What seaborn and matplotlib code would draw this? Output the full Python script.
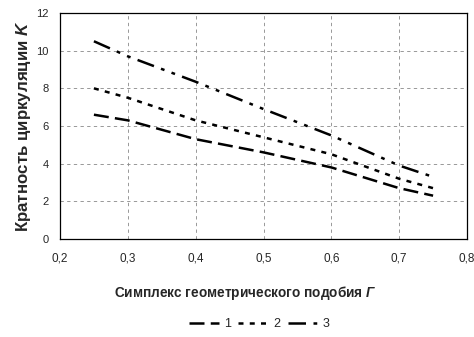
import matplotlib
matplotlib.use("Agg")
import matplotlib.pyplot as plt
import seaborn as sns
import pandas as pd

x_vals = [0.25, 0.3, 0.4, 0.5, 0.6, 0.7, 0.75]
line1 = [6.6, 6.3, 5.3, 4.6, 3.8, 2.7, 2.3]
line2 = [8.0, 7.5, 6.3, 5.4, 4.5, 3.2, 2.7]
line3 = [10.5, 9.7, 8.35, 6.9, 5.5, 3.9, 3.3]
series_names = ["1", "2", "3"]
x_ticks = [0.2, 0.3, 0.4, 0.5, 0.6, 0.7, 0.8]
x_tick_labels = ["0,2", "0,3", "0,4", "0,5", "0,6", "0,7", "0,8"]
y_ticks = [0, 2, 4, 6, 8, 10, 12]

sns.set_style("white")
plt.rcParams["font.family"] = ["Liberation Sans", "DejaVu Sans"]
plt.rcParams["mathtext.fontset"] = "custom"
plt.rcParams["mathtext.bfit"] = "Liberation Sans:italic:bold"

fig = plt.figure(figsize=(4.74, 3.37), dpi=100)
ax = fig.add_axes([60 / 474, 1 - 239 / 337, 407 / 474, 226 / 337])

dash_list = [(6, 2.5), (2, 2.5), (7, 3, 1.5, 3, 1.5, 3)]
for name, vals, d in zip(series_names, [line1, line2, line3], dash_list):
    df = pd.DataFrame({"x": x_vals, "K": vals})
    sns.lineplot(data=df, x="x", y="K", color="black", linewidth=1.8,
                 ax=ax, label=name)
    ax.lines[-1].set_dashes(d)

ax.set_xlim(0.2, 0.8)
ax.set_ylim(0, 12)
ax.set_xticks(x_ticks)
ax.set_xticklabels(x_tick_labels)
ax.set_yticks(y_ticks)
ax.tick_params(axis="x", labelsize=8.5, length=0, pad=10)
ax.tick_params(axis="y", labelsize=8, length=0, pad=8)
ax.grid(True, color="#888888", linestyle=(0, (4, 4)), linewidth=0.6)
for s in ax.spines.values():
    s.set_color("black")
    s.set_linewidth(0.9)

ax.set_xlabel("Симплекс геометрического подобия $\\mathbfit{Г}$", fontsize=9.8,
              fontweight="bold", labelpad=14)
ax.xaxis.set_label_coords(0.455, -0.2)
ax.xaxis.label.set_verticalalignment("top")
ax.set_ylabel("Кратность циркуляции $\\mathbfit{K}$", fontsize=12.2,
              fontweight="bold")
ax.yaxis.set_label_coords(-27 / 407, 0.5)

handles, labels = ax.get_legend_handles_labels()
ax.legend(handles, labels, loc="upper center", bbox_to_anchor=(0.49, -0.30),
          ncol=3, frameon=False, fontsize=9, handlelength=2.4,
          columnspacing=0.6, handletextpad=0.4)

fig.savefig("out.png", dpi=100)
